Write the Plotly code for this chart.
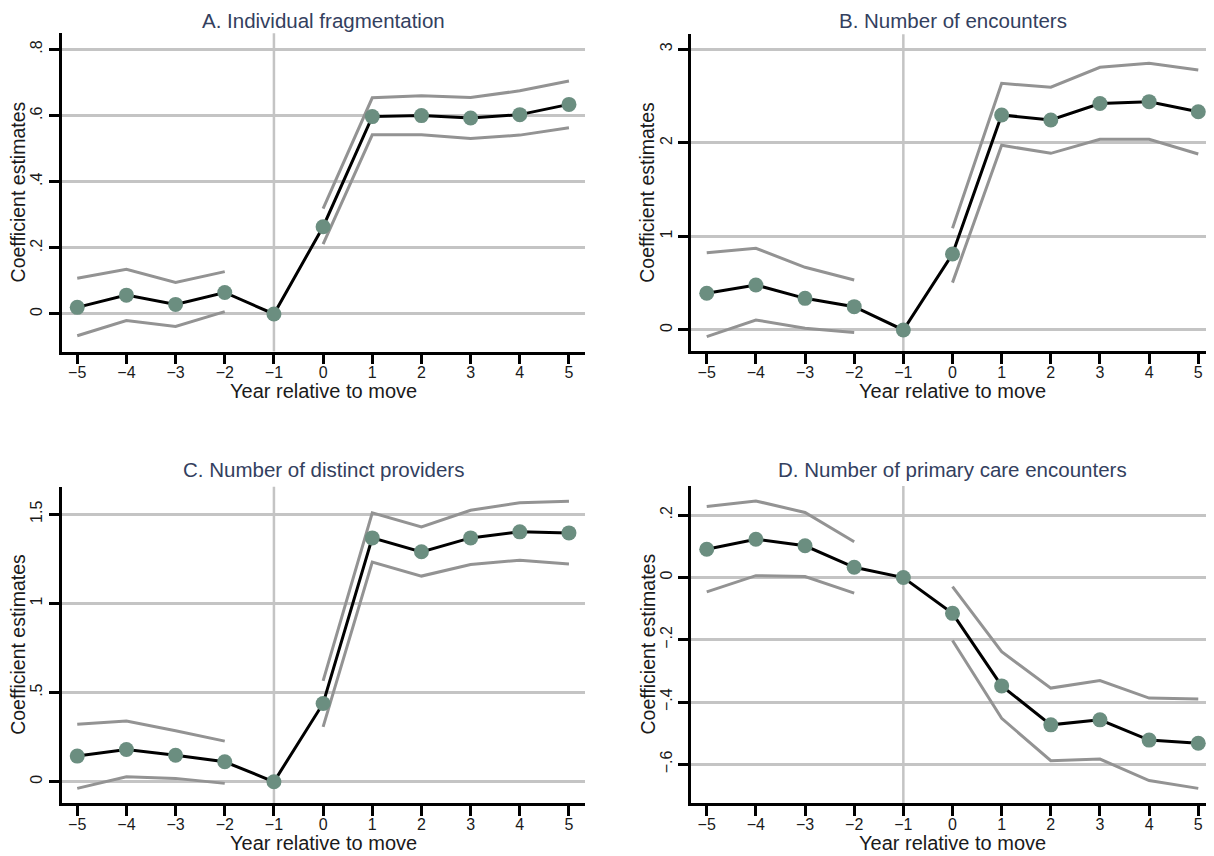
import plotly.graph_objects as go

years = [-5, -4, -3, -2, -1, 0, 1, 2, 3, 4, 5]
event_year = -1

# Panel A: Individual fragmentation
a_est = [0.020, 0.057, 0.029, 0.065, 0.0, 0.264, 0.597, 0.600, 0.593, 0.603, 0.634]
a_hi = [0.108, 0.135, 0.095, 0.128, None, 0.319, 0.654, 0.660, 0.655, 0.675, 0.705]
a_lo = [-0.066, -0.020, -0.038, 0.007, None, 0.211, 0.542, 0.542, 0.531, 0.541, 0.563]

# Panel B: Number of encounters
b_est = [0.392, 0.481, 0.338, 0.249, 0.0, 0.812, 2.298, 2.244, 2.420, 2.440, 2.333]
b_hi = [0.826, 0.873, 0.670, 0.534, None, 1.087, 2.636, 2.594, 2.807, 2.850, 2.779]
b_lo = [-0.071, 0.107, 0.018, -0.028, None, 0.506, 1.974, 1.888, 2.038, 2.038, 1.881]

# Panel C: Number of distinct providers
c_est = [0.144, 0.181, 0.149, 0.112, 0.0, 0.439, 1.367, 1.289, 1.367, 1.401, 1.395]
c_hi = [0.323, 0.340, 0.286, 0.228, None, 0.566, 1.508, 1.429, 1.522, 1.564, 1.573]
c_lo = [-0.037, 0.028, 0.019, -0.009, None, 0.308, 1.231, 1.153, 1.218, 1.242, 1.220]

# Panel D: Number of primary care encounters
d_est = [0.091, 0.123, 0.102, 0.033, 0.0, -0.115, -0.348, -0.473, -0.457, -0.522, -0.532]
d_hi = [0.228, 0.246, 0.209, 0.115, None, -0.029, -0.238, -0.355, -0.331, -0.387, -0.390]
d_lo = [-0.046, 0.006, 0.003, -0.050, None, -0.202, -0.452, -0.588, -0.583, -0.652, -0.677]

titles = ["A. Individual fragmentation", "B. Number of encounters",
          "C. Number of distinct providers", "D. Number of primary care encounters"]

y_tickvals = [[0, 0.2, 0.4, 0.6, 0.8], [0, 1, 2, 3], [0, 0.5, 1, 1.5], [-0.6, -0.4, -0.2, 0, 0.2]]
y_ticktext = [["0", ".2", ".4", ".6", ".8"], ["0", "1", "2", "3"],
              ["0", ".5", "1", "1.5"], ["\u2212.6", "\u2212.4", "\u2212.2", "0", ".2"]]
y_ranges = [[-0.1135, 0.849], [-0.228, 3.16], [-0.119, 1.654], [-0.724, 0.294]]
x_range = [-5.32, 5.32]

OFF = 8  # page body margin
W, H = 1214 - OFF, 856 - OFF
FONT = "Liberation Sans"
MARKER = "#6b8e80"
CI = "#939393"
GRID = "#c4c4c4"


def px(x):
    return (x - OFF) / W


def py(y):
    return 1 - (y - OFF) / H


# pixel layout (in the 1214x856 picture) of each plot area: (left, right, top, bottom)
boxes = [(61.5, 584.7, 33.3, 351.5), (691, 1214, 34.3, 351.3),
         (61.5, 584.7, 486.7, 803), (691, 1214, 486, 803)]

panels = [(a_est, a_hi, a_lo), (b_est, b_hi, b_lo), (c_est, c_hi, c_lo), (d_est, d_hi, d_lo)]

fig = go.Figure()
layout = dict(width=W, height=H, margin=dict(l=0, r=0, t=0, b=0),
              paper_bgcolor="white", plot_bgcolor="white", showlegend=False,
              font=dict(family=FONT, size=16, color="#1a1a1a"))
annotations = []

for i, ((est, hi, lo), (l, r, t, b)) in enumerate(zip(panels, boxes)):
    n = "" if i == 0 else str(i + 1)
    xa, ya = "x" + n, "y" + n
    for ci in (hi, lo):
        fig.add_trace(go.Scatter(x=years, y=ci, mode="lines", xaxis=xa, yaxis=ya,
                                 line=dict(color=CI, width=3), connectgaps=False,
                                 hoverinfo="skip"))
    fig.add_trace(go.Scatter(x=years, y=est, mode="lines+markers", xaxis=xa, yaxis=ya,
                             line=dict(color="black", width=3),
                             marker=dict(color=MARKER, size=15)))
    fig.add_shape(type="line", xref=xa, yref=ya + " domain", x0=event_year, x1=event_year,
                  y0=0, y1=1, line=dict(color=GRID, width=2.5), layer="below")
    layout["xaxis" + n] = dict(domain=[px(l), min(px(r), 1.0)], range=x_range, anchor=ya,
                               tickvals=years,
                               showgrid=False, zeroline=False, showline=True,
                               linecolor="black", linewidth=2.5, ticks="outside",
                               ticklen=10, tickwidth=2.5, tickcolor="black",
                               ticklabelstandoff=-5,
                               tickfont=dict(size=16))
    layout["yaxis" + n] = dict(domain=[py(b), py(t)], range=y_ranges[i], anchor=xa,
                               tickvals=y_tickvals[i], ticktext=y_ticktext[i],
                               tickangle=-90, showgrid=True, gridcolor=GRID, gridwidth=2.5,
                               zeroline=False, showline=True, linecolor="black",
                               linewidth=2.5, ticks="outside", ticklen=10, tickwidth=2.5,
                               tickcolor="black", tickfont=dict(size=16))
    title_y = 20.5 if i < 2 else 470
    xt_y = 391 if i < 2 else 843
    yt_x = 18 if i % 2 == 0 else 647
    yt_y = (t + b) / 2
    cx = (l + r) / 2
    annotations.append(dict(text=titles[i], x=px(cx), y=py(title_y),
                            xref="paper", yref="paper", showarrow=False,
                            xanchor="center", yanchor="middle", borderpad=0,
                            font=dict(size=20.5, color="#33405e")))
    annotations.append(dict(text="Year relative to move", x=px(cx), y=py(xt_y),
                            xref="paper", yref="paper", showarrow=False,
                            xanchor="center", yanchor="middle", font=dict(size=20)))
    annotations.append(dict(text="Coefficient estimates", x=px(yt_x), y=py(yt_y),
                            xref="paper", yref="paper", showarrow=False, textangle=-90,
                            xanchor="center", yanchor="middle", font=dict(size=19.5)))

layout["annotations"] = annotations
fig.update_layout(**layout)
fig.write_html("out.html")
